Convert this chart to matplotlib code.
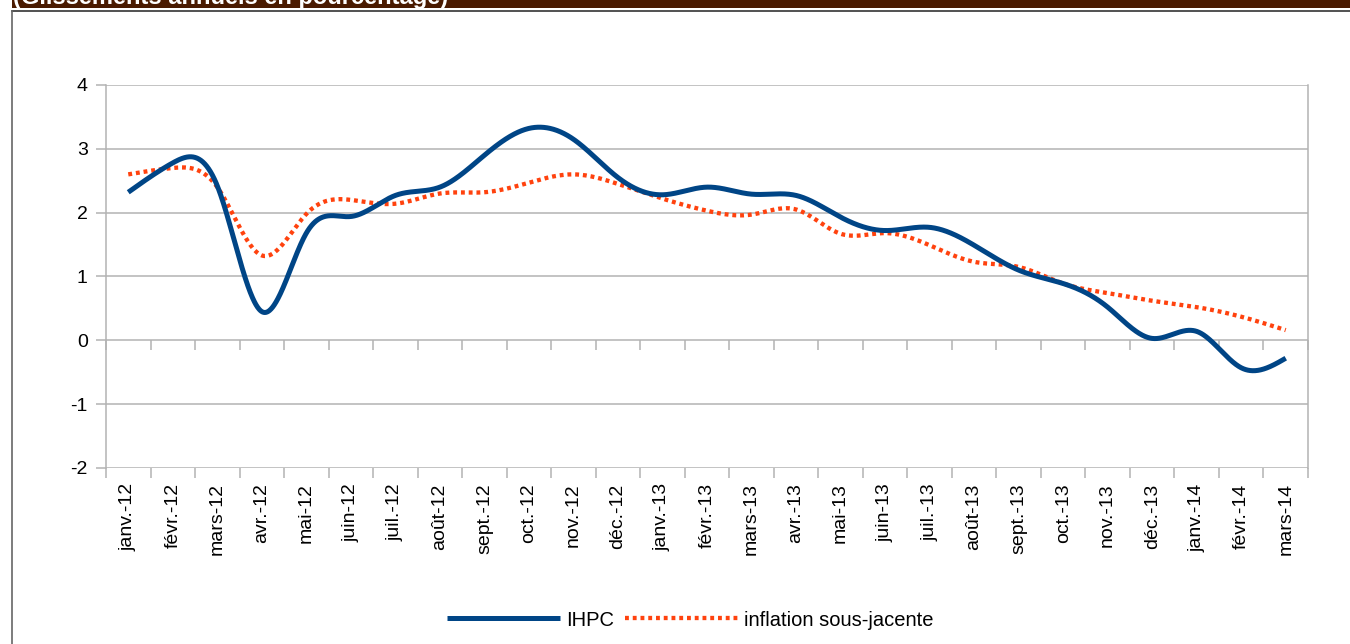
import numpy as np
import matplotlib
matplotlib.use("Agg")
import matplotlib.pyplot as plt
from matplotlib.lines import Line2D
from matplotlib.patches import Rectangle

months = ["janv.-12", "févr.-12", "mars-12", "avr.-12", "mai-12", "juin-12", "juil.-12",
          "août-12", "sept.-12", "oct.-12", "nov.-12", "déc.-12",
          "janv.-13", "févr.-13", "mars-13", "avr.-13", "mai-13", "juin-13", "juil.-13",
          "août-13", "sept.-13", "oct.-13", "nov.-13", "déc.-13",
          "janv.-14", "févr.-14", "mars-14"]
ihpc = [2.32, 2.78, 2.42, 0.45, 1.68, 1.94, 2.27, 2.40, 2.90, 3.32, 3.15, 2.55,
        2.28, 2.40, 2.29, 2.27, 1.93, 1.72, 1.77, 1.49, 1.10, 0.89, 0.52, 0.03,
        0.14, -0.43, -0.28]
sous_jacente = [2.60, 2.70, 2.40, 1.33, 1.98, 2.20, 2.14, 2.30, 2.32, 2.47, 2.60, 2.45,
                2.22, 2.03, 1.97, 2.05, 1.67, 1.68, 1.49, 1.23, 1.15, 0.89, 0.74, 0.62,
                0.52, 0.37, 0.16]
yticks = [-2, -1, 0, 1, 2, 3, 4]
title = "(Glissements annuels en pourcentage)"

W, H = 1350, 644
fig = plt.figure(figsize=(W / 100, H / 100), dpi=100)
fig.patch.set_facecolor("white")
plt.rcParams['font.family'] = ['Liberation Sans', 'DejaVu Sans']
plt.rcParams['axes.unicode_minus'] = False

# banner and frame
fig.patches.append(Rectangle((12 / W, 1 - 8 / H), 1, 8 / H, transform=fig.transFigure,
                             facecolor="#4a1a00", edgecolor="none"))
fig.text(13 / W, 1 - 4 / H, title, color="white", fontsize=17, fontweight="bold",
         va="baseline", ha="left")
fig.lines.append(Line2D([12 / W, 1], [1 - 11 / H, 1 - 11 / H], transform=fig.transFigure,
                        color="#333333", lw=1.2))
fig.lines.append(Line2D([12 / W, 12 / W], [0, 1 - 11 / H], transform=fig.transFigure,
                        color="#666666", lw=1.2))

ax = fig.add_axes([106 / W, (H - 468) / H, 1202 / W, 383 / H])
n = len(months)
x = np.arange(n)
ax.set_xlim(-0.5, n - 0.5)
ymin, ymax = yticks[0], yticks[-1]
ax.set_ylim(ymin, ymax)


def natural_spline(t, v, tt):
    m = len(t)
    h = np.diff(t)
    A = np.zeros((m, m))
    r = np.zeros(m)
    A[0, 0] = A[-1, -1] = 1
    for i in range(1, m - 1):
        A[i, i - 1] = h[i - 1]
        A[i, i] = 2 * (h[i - 1] + h[i])
        A[i, i + 1] = h[i]
        r[i] = 6 * ((v[i + 1] - v[i]) / h[i] - (v[i] - v[i - 1]) / h[i - 1])
    M = np.linalg.solve(A, r)
    idx = np.clip(np.searchsorted(t, tt) - 1, 0, m - 2)
    t0, t1 = t[idx], t[idx + 1]
    hh = t1 - t0
    a = (t1 - tt) / hh
    b = (tt - t0) / hh
    return (a * v[idx] + b * v[idx + 1]
            + ((a ** 3 - a) * M[idx] + (b ** 3 - b) * M[idx + 1]) * hh ** 2 / 6)


def smooth(xv, yv):
    # natural cubic spline through the monthly values (rendering only)
    xv = np.asarray(xv, float)
    yv = np.asarray(yv, float)
    xx = np.linspace(xv[0], xv[-1], 3000)
    return xx, natural_spline(xv, yv, xx)


# grid
for s in ["top", "bottom"]:
    ax.spines[s].set_visible(False)
for s in ["left", "right"]:
    ax.spines[s].set_color("#b3b3b3")
    ax.spines[s].set_linewidth(1.1)
ax.set_yticks(yticks)
ax.yaxis.grid(True, color="#b3b3b3", lw=1.1)
ax.set_axisbelow(True)
ax.tick_params(axis="y", length=7.2, width=1.1, color="#b3b3b3", pad=6,
               labelsize=14, labelcolor="black")

bounds = np.arange(n + 1) - 0.5
ax.set_xticks(x)
ax.set_xticklabels(months, rotation=90, fontsize=14)
ax.tick_params(axis="x", which="major", length=0, pad=11)
ax.set_xticks(bounds, minor=True)
ax.tick_params(axis="x", which="minor", length=7.2, width=1.1, color="#b3b3b3")

sec = ax.secondary_xaxis((0 - ymin) / (ymax - ymin))
sec.spines["bottom"].set_visible(False)
sec.set_xticks(bounds)
sec.set_xticklabels([])
sec.tick_params(axis="x", length=7.2, width=1.1, color="#b3b3b3")

xs, ys = smooth(x, ihpc)
ax.plot(xs, ys, color="#004586", lw=3.6, solid_capstyle="butt", label="IHPC", zorder=3)
xs, ys = smooth(x, sous_jacente)
ax.plot(xs, ys, color="#ff420e", lw=3.1, dashes=(0.9, 0.9), dash_capstyle="butt",
        label="inflation sous-jacente", zorder=2)

leg = fig.legend(loc="center", bbox_to_anchor=(690 / W, 1 - 620 / H), ncol=2,
                 frameon=False, fontsize=14.5, handlelength=5.6, handletextpad=0.3,
                 columnspacing=0.55)

fig.savefig("out.png", dpi=100)
